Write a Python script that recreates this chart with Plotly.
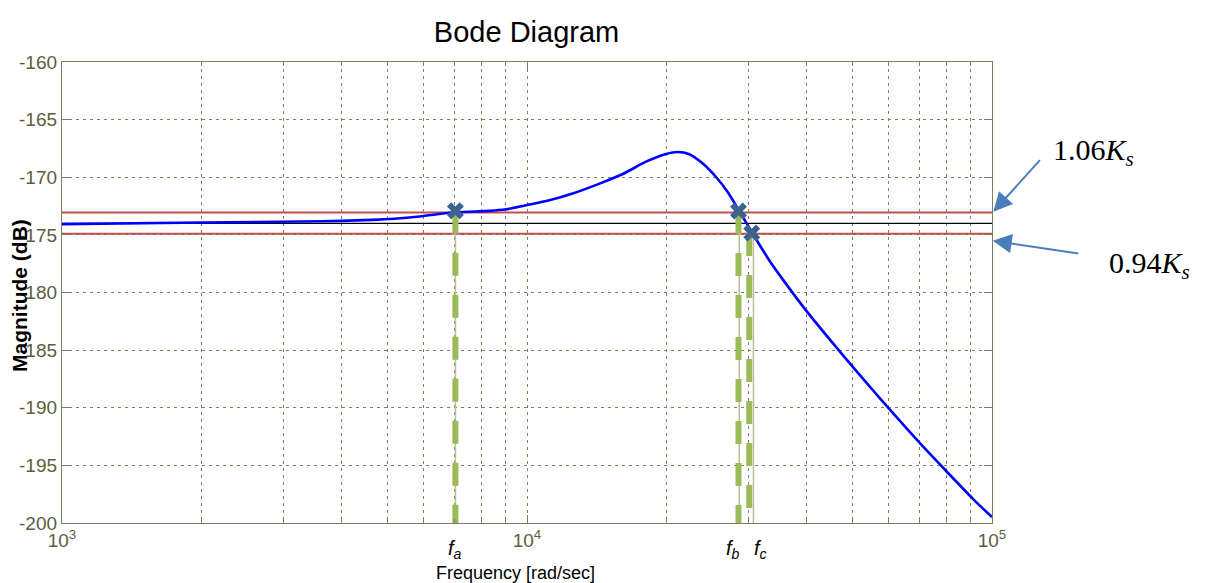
import numpy as np
import plotly.graph_objects as go

# ---- data ----
freq = [1000, 2004, 3631, 4634, 5188, 5875, 7015, 8299, 9016, 9954, 11169, 12531,
        14322, 16069, 18030, 19907, 21086, 22336, 23878, 25527, 27030, 28880, 30590,
        33230, 35481, 39811, 46990, 55463, 60256, 69823, 79799, 90991, 100000]
mag_db = [-174.07, -173.92, -173.82, -173.70, -173.60, -173.41, -173.04, -172.92,
          -172.78, -172.43, -172.0, -171.41, -170.55, -169.72, -168.65, -167.98,
          -167.81, -168.0, -168.81, -170.0, -171.30, -173.21, -174.90, -177.24,
          -178.86, -181.55, -185.08, -188.48, -190.15, -193.03, -195.51, -197.9, -199.49]

band_upper = -173.05   # 1.06 Ks
band_nominal = -174.0  # Ks
band_lower = -174.9    # 0.94 Ks
band_x = [1000, 100000]

point_names = ["a", "b", "c"]
point_freq = [7015, 28500, 30430]
point_mag = [-172.9, -172.92, -174.83]
green_freq = [7015, 28500, 30060]
thin_freq = [7015, 28600, 30690]
label_shift = [0, -6, 9]

y_ticks = [-160, -165, -170, -175, -180, -185, -190, -195, -200]
x_major = [1000, 10000, 100000]
x_major_text = ["10<sup>3</sup>", "10<sup>4</sup>", "10<sup>5</sup>"]
x_minor = [m * d for d in (1000, 10000) for m in range(2, 10)]

SANS = "Liberation Sans, Arial, sans-serif"
SERIF = "Liberation Serif, Times New Roman, serif"
OLIVE = "#7f7f5f"
TICKTXT = "#5d5d3d"

fig = go.Figure()

# band lines
for yv, col, w in [(band_upper, "#c0504d", 2), (band_lower, "#c0504d", 2), (band_nominal, "black", 1.3)]:
    fig.add_trace(go.Scatter(x=band_x, y=[yv, yv], mode="lines",
                             line=dict(color=col, width=w), hoverinfo="skip", showlegend=False))

# magnitude curve
fig.add_trace(go.Scatter(x=freq, y=mag_db, mode="lines",
                         line=dict(color="#0000ff", width=2.6, shape="spline", smoothing=0.8),
                         showlegend=False))

# drop lines
for tf, pm in zip(thin_freq, point_mag):
    fig.add_trace(go.Scatter(x=[tf, tf], y=[pm, -200], mode="lines",
                             line=dict(color="#bdbd9a", width=1.5), hoverinfo="skip", showlegend=False))
for gf, pm in zip(green_freq, point_mag):
    fig.add_trace(go.Scatter(x=[gf, gf], y=[pm, -200], mode="lines",
                             line=dict(color="#9bbb59", width=6, dash="23px,19px"),
                             hoverinfo="skip", showlegend=False))

# markers
fig.add_trace(go.Scatter(x=point_freq, y=point_mag, mode="markers",
                         marker=dict(symbol="x", size=15, color="#3b6291", line=dict(width=0)),
                         showlegend=False))

annotations = []
# f labels
for name, pf, sh in zip(point_names, point_freq, label_shift):
    annotations.append(dict(x=np.log10(pf), xref="x", y=-0.058, yref="paper",
                            text=f"<i>f<sub>{name}</sub></i>", showarrow=False,
                            xshift=sh, font=dict(family=SANS, size=20, color="black"),
                            xanchor="center", yanchor="middle"))

# axis titles
annotations.append(dict(x=-0.0452, y=0.4946, xref="paper", yref="paper", text="<b>Magnitude (dB)</b>",
                        textangle=-90, showarrow=False, font=dict(family=SANS, size=21, color="black"),
                        xanchor="center", yanchor="middle"))
annotations.append(dict(x=0.488, y=-0.108, xref="paper", yref="paper", text="Frequency [rad/sec]",
                        showarrow=False, font=dict(family=SANS, size=18, color="black"),
                        xanchor="center", yanchor="middle"))

# right side labels
annotations.append(dict(x=1.0634, y=0.8048, xref="paper", yref="paper",
                        text="1.06<i>K<sub>s</sub></i>", showarrow=False,
                        font=dict(family=SERIF, size=30, color="black"), xanchor="left", yanchor="middle"))
annotations.append(dict(x=1.1237, y=0.5597, xref="paper", yref="paper",
                        text="0.94<i>K<sub>s</sub></i>", showarrow=False,
                        font=dict(family=SERIF, size=30, color="black"), xanchor="left", yanchor="middle"))
# arrows
annotations.append(dict(x=1.0014, y=0.6753, xref="paper", yref="paper", text="", showarrow=True,
                        ax=48, ay=-53, arrowhead=2, arrowsize=1.9, arrowwidth=2, arrowcolor="#4a7ebb",
                        standoff=0))
annotations.append(dict(x=1.0008, y=0.6124, xref="paper", yref="paper", text="", showarrow=True,
                        ax=87, ay=13, arrowhead=2, arrowsize=1.9, arrowwidth=2, arrowcolor="#4a7ebb",
                        standoff=0))

fig.update_layout(
    width=1206, height=583,
    margin=dict(l=62, r=214, t=62, b=60, pad=0),
    paper_bgcolor="white", plot_bgcolor="white",
    title=dict(text="Bode Diagram", x=0.4995, xref="paper", y=1 - 32 / 583, yref="container",
               xanchor="center", yanchor="middle",
               font=dict(family=SANS, size=29, color="black")),
    annotations=annotations,
    showlegend=False,
)

fig.update_xaxes(type="log", range=[3, 5],
                 tickmode="array", tickvals=x_major, ticktext=x_major_text,
                 ticks="inside", ticklen=8, tickcolor=OLIVE,
                 showline=True, linecolor=OLIVE, linewidth=1.3, mirror="ticks",
                 showgrid=True, gridcolor=OLIVE, griddash="3px,4px", gridwidth=1,
                 minor=dict(tickvals=x_minor, showgrid=True, gridcolor=OLIVE, griddash="3px,4px",
                            ticks="inside", ticklen=4, tickcolor=OLIVE),
                 tickfont=dict(family=SANS, size=19, color=TICKTXT),
                 zeroline=False)
fig.update_yaxes(range=[-200, -160], tickmode="array", tickvals=y_ticks,
                 ticktext=[str(v) for v in y_ticks],
                 ticks="inside", ticklen=8, tickcolor=OLIVE,
                 showline=True, linecolor=OLIVE, linewidth=1.3, mirror="ticks",
                 showgrid=True, gridcolor=OLIVE, griddash="3px,4px", gridwidth=1,
                 tickfont=dict(family=SANS, size=19, color=TICKTXT),
                 zeroline=False)

fig.write_html("out.html", config={"displayModeBar": False},
               post_script="document.body.style.margin='0';document.body.style.overflow='hidden';")
